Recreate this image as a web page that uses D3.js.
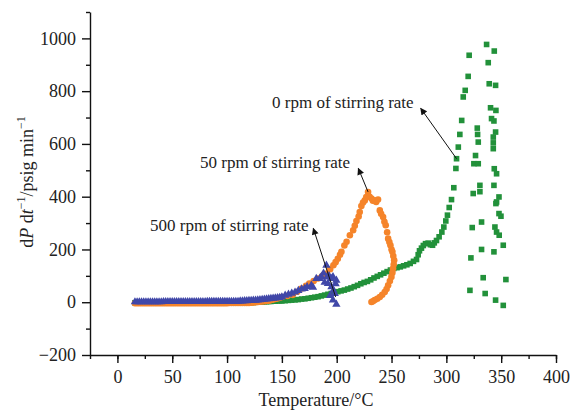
<!DOCTYPE html>
<html>
<head>
<meta charset="utf-8">
<script src="https://cdn.jsdelivr.net/npm/d3@7"></script>
<style>
  body { margin: 0; background: #fff; }
  text { font-family: "Liberation Serif", "Times New Roman", serif; fill: #222; }
</style>
</head>
<body>
<svg id="chart" width="570" height="411"></svg>
<script>
// flat region sampling (deg C), shared by the three runs
const lowTemps = [16,18,20,22,24,26,28,30,32,34,36,38,40,42,44,46,48,50,52,54,56,58,60,62,64,66,68,
  70,72,74,76,78,80,82,84,86,88,90,92,94,96,98,100,102,104,106,108,110,112,114,116,118,120,122,124,
  126,128,130,132,134,136,138,140,142,144,146,148];

// 0 rpm (green squares)
const rpm0Low = [-2,-2,-2,-2,-2,-2,-2,-2,-2,-2,-2,-2,-2,-2,-2,-2,-2,-2,-2,-2,-2,-2,-2,-2,-2,-2,-2,
  -2,-2,-2,-2,-2,-2,-2,-2,-2,-2,-2,-2,-2,-2,-2,-2,-2,-2,-2,-2,-2,-2,-2,-2,-2,-2,
  -1,-1,0,0,1,1,2,2,3,3,4,4,5,5];
const rpm0Temp = [150,153,156,159,162,165,168,171,174,177,180,183,186,189,192,195,198,201,204,207,
  210,213,216,219,222,225,228,231,234,237,240,243,246,249,252,255,258,261,264,267,270,272.8,274.3,
  275.5,277.3,279,281,283.4,285.5,287.4,289,291,293.4,295.9,297.7,299.5,301,302.6,304.7,306.8,308.7,
  309.3,310.9,312.3,314,315.4,317.2,319.9,320.8,
  336.7,343.7,338.2,339.1,344.9,340.3,345.2,341.2,343.4,344.9,342.8,342.8,342.8,328.2,328.5,329.1,
  326.6,325.1,329.1,343.7,345.8,343.4,330.6,324.5,330.6,348,345.8,345.2,348,349.8,332.1,323.6,344.3,
  345.8,348.2,351.9,332.1,343.4,322.4,333.6,354.3,321.5,335.4,344.9,351.9];
const rpm0Rate = [5,6,7,8,9,10,12,13,15,17,19,21,24,27,30,33,36,40,43,46,
  50,54,59,64,70,75,79,85,92,98,104,110,116,122,128,131,134,138,142,147,155,162,180,
  195,205,215,222,224,218,216,225,234,248,266,285,308,330,359,389,434,507,
  544,588,636,689,778,803,856,936,
  977,952,908,828,822,737,727,696,687,645,626,604,582,660,636,607,
  556,525,525,506,487,443,443,412,419,399,380,374,336,326,304,283,285,
  266,254,216,200,191,168,93,86,45,33,8,-12];

// 50 rpm (orange circles)
const rpm50Low = [-4,-4,-4,-4,-4,-4,-4,-4,-4,-4,-4,-4,-4,-4,-4,-4,-4,-4,-4,-4,-4,-4,-4,-4,-4,-4,-4,
  -4,-4,-4,-4,-4,-4,-4,-4,-4,-4,-4,-4,-4,-4,-4,-4,
  -3,-3,-3,-3,-3,-3,-3,-3,-3,-3,-2,-1,0,1,2,3,4,5,6,8,10,12,14,17];
const rpm50Temp = [150,155,160,164,168,172,175,179,183,187,191,194,197,199,201,203,204.3,207,209,
  212,215,216.5,218,220,221,222.5,224,225.6,227,228.6,230,231.7,233,234.7,236,237.7,239.3,240.5,
  242.3,243.5,244.7,246,246.9,248,249,250,250.8,251.6,252.4,252,251.4,250.8,249.9,248.5,246.9,
  245.5,243.8,241.5,239.3,237,234.7,233,231.7];
const rpm50Rate = [20,24,28,40,52,62,71,80,90,100,109,125,140,152,165,180,191,215,229,
  254,273,290,308,325,342,365,378,386,399,418,400,393,385,386,380,389,348,335,
  323,305,292,265,241,228,216,200,191,175,159,143,128,112,96,80,64,
  50,39,28,20,13,8,4,1];

// 500 rpm (blue triangles)
const rpm500Low = [1,1,1,1,1,1,1,1,1,1,1,1,1,2,2,2,2,2,2,2,2,2,2,2,2,2,2,2,2,2,2,2,2,
  3,3,3,3,3,3,3,3,3,3,3,3,3,3,3,4,4,5,5,6,6,7,7,8,9,10,11,12,13,14,15,16,17,18];
const rpm500Temp = [150,153,156,159,162,165,168,170.8,173,176.9,178.4,181.4,184.5,186,188,189,
  190.6,191,192,193,194,195,195.2,196.6,196.6,197,198.2,199,199.7,199.7];
const rpm500Rate = [20,26,30,34,38,44,50,52,58,64,56,90,90,96,110,75,
  140,95,71,100,25,90,58,96,8,45,33,70,83,-8];

const xTicks = [0,50,100,150,200,250,300,350,400];
const yTicks = [-200,0,200,400,600,800,1000];

const notes = [
  { text: "0 rpm of stirring rate", tx: 272, ty: 108, from: [309.3, 544], to: [420.7, 108.3] },
  { text: "50 rpm of stirring rate", tx: 200, ty: 168, from: [228.6, 418], to: [358.3, 168.3] },
  { text: "500 rpm of stirring rate", tx: 150, ty: 231, from: [199, 20], to: [313.3, 228.3] }
];

const svg = d3.select("#chart");
const x = d3.scaleLinear().domain([-25, 400]).range([90, 556]);
const y = d3.scaleLinear().domain([-200, 1100]).range([355, 12]);

const pts = (temps, rates) => temps.map((t, i) => [t, rates[i]]);
const green = pts(lowTemps, rpm0Low).concat(pts(rpm0Temp, rpm0Rate));
const orange = pts(lowTemps, rpm50Low).concat(pts(rpm50Temp, rpm50Rate));
const blue = pts(lowTemps, rpm500Low).concat(pts(rpm500Temp, rpm500Rate));

// axes
const axisStyle = g => {
  g.selectAll("path, line").attr("stroke", "#111").attr("stroke-width", 1.4);
  g.selectAll("text").attr("font-size", 18).attr("fill", "#222")
    .attr("font-family", "Liberation Serif, serif");
};

svg.append("g").attr("transform", "translate(0,355)")
  .call(d3.axisBottom(x).tickValues(d3.range(-25, 401, 25)).tickSize(4).tickFormat("").tickSizeOuter(0))
  .call(axisStyle);
svg.append("g").attr("transform", "translate(0,355)")
  .call(d3.axisBottom(x).tickValues(xTicks).tickSize(8).tickPadding(7).tickSizeOuter(0))
  .call(axisStyle)
  .call(g => g.select(".domain").remove());

svg.append("g").attr("transform", "translate(90,0)")
  .call(d3.axisLeft(y).tickValues(d3.range(-100, 1101, 200)).tickSize(4).tickFormat("").tickSizeOuter(0))
  .call(axisStyle);
svg.append("g").attr("transform", "translate(90,0)")
  .call(d3.axisLeft(y).tickValues(yTicks).tickSize(8).tickPadding(6).tickSizeOuter(0)
    .tickFormat(d => d < 0 ? "\u2212" + Math.abs(d) : d))
  .call(axisStyle)
  .call(g => g.select(".domain").remove());

// titles
svg.append("text").attr("x", 316).attr("y", 406).attr("text-anchor", "middle")
  .attr("font-size", 18).text("Temperature/\u00b0C");

const yt = svg.append("text").attr("transform", "translate(33,182) rotate(-90)")
  .attr("text-anchor", "middle").attr("font-size", 18);
yt.append("tspan").text("d");
yt.append("tspan").attr("font-style", "italic").text("P");
yt.append("tspan").text(" d");
yt.append("tspan").attr("font-style", "italic").text("t");
yt.append("tspan").attr("font-size", 12).attr("dy", -8).text("\u22121");
yt.append("tspan").attr("dy", 8).text("/psig min");
yt.append("tspan").attr("font-size", 12).attr("dy", -8).text("\u22121");

// markers
svg.append("g").selectAll("rect").data(green).join("rect")
  .attr("x", d => x(d[0]) - 2.8).attr("y", d => y(d[1]) - 2.8)
  .attr("width", 5.6).attr("height", 5.6).attr("fill", "#22913a");

svg.append("g").selectAll("circle").data(orange).join("circle")
  .attr("cx", d => x(d[0])).attr("cy", d => y(d[1])).attr("r", 3.3)
  .attr("fill", "#f5842a");

const tri = d3.symbol(d3.symbolTriangle, 30);
svg.append("g").selectAll("path").data(blue).join("path")
  .attr("transform", d => "translate(" + x(d[0]) + "," + y(d[1]) + ")")
  .attr("d", tri).attr("fill", "#4047a8");

// annotations
svg.append("defs").append("marker").attr("id", "head")
  .attr("viewBox", "0 0 10 10").attr("refX", 9).attr("refY", 5)
  .attr("markerWidth", 9).attr("markerHeight", 7).attr("markerUnits", "userSpaceOnUse")
  .attr("orient", "auto")
  .append("path").attr("d", "M0,0L10,5L0,10Z").attr("fill", "#111");

notes.forEach(n => {
  svg.append("line")
    .attr("x1", x(n.from[0])).attr("y1", y(n.from[1]))
    .attr("x2", n.to[0]).attr("y2", n.to[1])
    .attr("stroke", "#111").attr("stroke-width", 1).attr("marker-end", "url(#head)");
  svg.append("text").attr("x", n.tx).attr("y", n.ty).attr("font-size", 17).text(n.text);
});
</script>
</body>
</html>
